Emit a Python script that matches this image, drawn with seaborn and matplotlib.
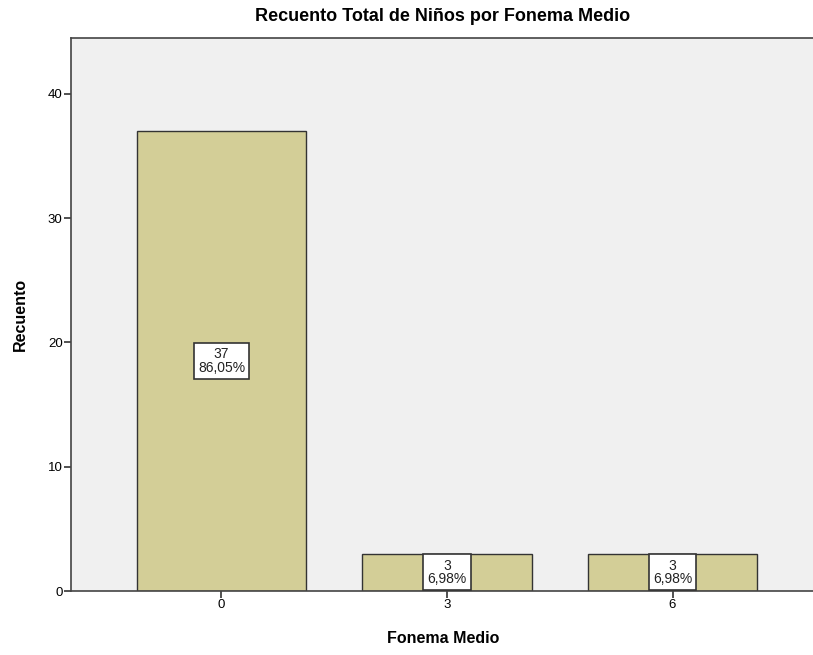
import matplotlib
matplotlib.use("Agg")
import matplotlib.pyplot as plt
import seaborn as sns
import pandas as pd

categories = ["0", "3", "6"]
counts = [37, 3, 3]
percents = ["86,05%", "6,98%", "6,98%"]
yticks = [0, 10, 20, 30, 40]

sns.set_style("white")
plt.rcParams['font.family'] = ['Liberation Sans', 'DejaVu Sans']
plt.rcParams['text.color'] = 'black'
plt.rcParams['axes.labelcolor'] = 'black'
plt.rcParams['xtick.color'] = 'black'
plt.rcParams['ytick.color'] = 'black'

df = pd.DataFrame({"cat": categories, "count": counts})

fig = plt.figure(figsize=(8.13, 6.55), dpi=100)
ax = fig.add_axes([71/813, 64/655, 1 - 71/813 + 0.002, (591-38)/655])
ax.set_facecolor("#F0F0F0")
sns.barplot(data=df, x="cat", y="count", color="#D3CE97", width=0.75,
            edgecolor="#333333", linewidth=1.0, saturation=1, ax=ax)

for i, (c, p) in enumerate(zip(counts, percents)):
    ax.text(i, c / 2, f"{c}\n{p}", ha="center", va="center", fontsize=10,
            linespacing=0.95, color="#222222",
            bbox=dict(boxstyle="square,pad=0.3", facecolor="white",
                      edgecolor="#333333", linewidth=1.2))

ax.set_xlim(-0.667, 2.63)
ax.set_ylim(0, 44.5)
ax.set_yticks(yticks)
ax.set_yticklabels([str(t) for t in yticks], fontsize=9.5)
ax.tick_params(axis="both", direction="out", length=5, width=1.2, color="#333333",
               labelsize=9.5, pad=1)
ax.tick_params(axis="both", left=True, bottom=True)
for s in ["left", "bottom", "top"]:
    ax.spines[s].set_visible(True)
    ax.spines[s].set_color("#444444")
    ax.spines[s].set_linewidth(1.2)
ax.spines["right"].set_visible(False)

ax.set_xlabel("Fonema Medio", fontsize=11.5, fontweight="bold", labelpad=14)
ax.set_ylabel("Recuento", fontsize=11.5, fontweight="bold", labelpad=14)
ax.set_title("Recuento Total de Niños por Fonema Medio", fontsize=13,
             fontweight="bold", pad=12)

fig.savefig("out.png", dpi=100)
